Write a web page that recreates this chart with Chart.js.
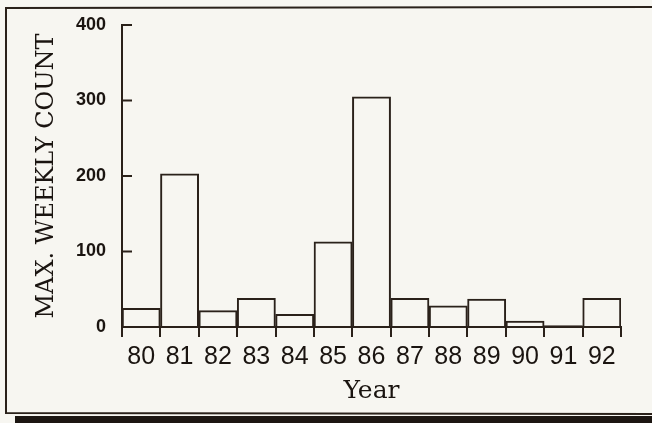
<!DOCTYPE html>
<html>
    <head>
        <title>Max weekly count</title>
        <meta charset="UTF-8">
        <style>
          body { margin: 0; background: #f7f6f1; }
          #wrap { width: 652px; height: 423px; }
        </style>
    </head>
    <body>
        <div id="wrap"><canvas id="barChart" width="652" height="423"></canvas></div>
        <script src="https://cdn.jsdelivr.net/npm/chart.js/dist/chart.umd.min.js"></script>
        <script>
          // values
          const years = ['80','81','82','83','84','85','86','87','88','89','90','91','92'];
          const maxCount = [25, 203, 22, 38, 17, 113, 305, 38, 28, 37, 8, 2, 38];
          const yTicks = [0, 100, 200, 300, 400];

          const INK = '#2a211a';

          // paper, frame and the dark strip at the bottom of the scan
          const paper = {
            id: 'paper',
            beforeDraw(chart) {
              const c = chart.ctx;
              c.save();
              c.fillStyle = '#f7f6f1';
              c.fillRect(0, 0, chart.width, chart.height);
              c.strokeStyle = INK;
              c.lineWidth = 2;
              c.beginPath();
              c.moveTo(652, 7);
              c.lineTo(6, 8);
              c.lineTo(6, 413);
              c.lineTo(652, 414);
              c.stroke();
              c.fillStyle = '#1c1612';
              c.fillRect(15, 416, 637, 7);
              c.restore();
            }
          };

          // y ticks point into the plot
          const innerTicks = {
            id: 'innerTicks',
            afterDatasetsDraw(chart) {
              const y = chart.scales.y;
              const c = chart.ctx;
              c.save();
              c.strokeStyle = INK;
              c.lineWidth = 2;
              yTicks.forEach(v => {
                const py = y.getPixelForValue(v);
                c.beginPath();
                c.moveTo(y.right, py);
                c.lineTo(y.right + 10, py);
                c.stroke();
              });
              c.restore();
            }
          };

          new Chart(document.getElementById('barChart'), {
            type: 'bar',
            data: {
              labels: years,
              datasets: [{
                data: maxCount,
                backgroundColor: 'rgba(0,0,0,0)',
                borderColor: INK,
                borderWidth: 1.5,
                inflateAmount: 0.25,
                categoryPercentage: 1,
                barPercentage: 1
              }]
            },
            options: {
              responsive: false,
              animation: false,
              layout: { padding: { left: 0, right: 31, top: 25, bottom: 13 } },
              plugins: { legend: { display: false }, tooltip: { enabled: false } },
              scales: {
                x: {
                  afterFit: s => { s.height = 83; },
                  grid: { display: true, drawOnChartArea: false, drawTicks: true, tickLength: 10, color: INK, lineWidth: 2, offset: true },
                  border: { color: INK, width: 2 },
                  ticks: { color: '#1a1410', padding: 5, maxRotation: 0, autoSkip: false,
                           font: { family: "'Liberation Sans Narrow', 'Liberation Sans', sans-serif", size: 25 } },
                  title: { display: true, text: 'Year', color: '#1a1410', padding: { top: 4 },
                           font: { family: "'DejaVu Serif', serif", size: 25 } }
                },
                y: {
                  min: 0,
                  max: 400,
                  afterFit: s => { s.width = 122; },
                  afterBuildTicks: s => { s.ticks = yTicks.map(v => ({ value: v })); },
                  grid: { display: false },
                  border: { color: INK, width: 2 },
                  ticks: { color: '#1a1410', padding: 8,
                           font: { family: "'Liberation Sans', sans-serif", size: 18, weight: 'bold' } },
                  title: { display: true, text: 'MAX. WEEKLY COUNT', color: '#1a1410', padding: { top: 32 },
                           font: { family: "'DejaVu Serif', serif", size: 24 } }
                }
              }
            },
            plugins: [paper, innerTicks]
          });
        </script>
    </body>
</html>
